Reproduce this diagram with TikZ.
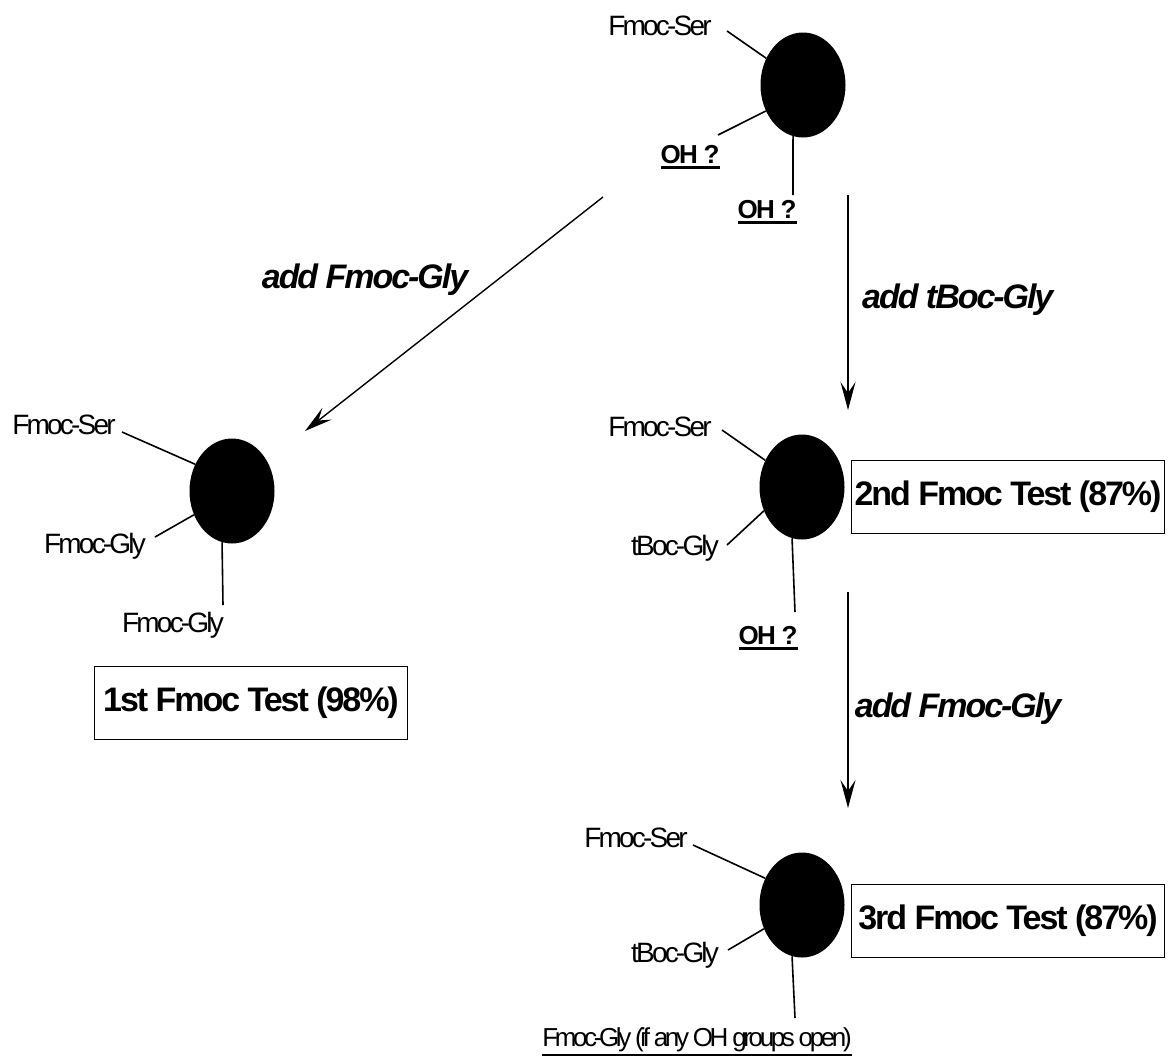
\documentclass[tikz,border=0pt]{standalone}
\usepackage{fontspec}
\setmainfont{Liberation Sans}
\newfontfamily\tightfont[LetterSpace=-6]{Liberation Sans}
\newfontfamily\narrowfont[LetterSpace=-10]{Liberation Sans}
\newfontfamily\squeezefont[LetterSpace=-13]{Liberation Sans}
\usetikzlibrary{arrows.meta,shapes.geometric}

% thick underline drawn under a text box
\newcommand\thickul[2][3pt]{\setbox0=\hbox{#2}\vtop{\copy0\kern2pt\hrule height #1 width \wd0}}

\tikzset{
  bead/.style={ellipse, fill=black, inner sep=0pt, minimum width=85pt, minimum height=105pt},
  arm/.style={line width=1.6pt},
  flow/.style={line width=1.4pt, -{Stealth[length=28pt,width=15pt,inset=11pt]}},
  grp/.style={font=\narrowfont\fontsize{28}{30}\selectfont, inner sep=0pt},
  ohlabel/.style={font=\tightfont\bfseries\fontsize{26}{28}\selectfont, inner sep=0pt},
  reagent/.style={font=\tightfont\bfseries\itshape\fontsize{34}{36}\selectfont, inner sep=0pt},
  testbox/.style={draw, line width=1.5pt, inner sep=0pt, minimum width=313pt, minimum height=73pt,
                  font=\tightfont\bfseries\fontsize{34}{36}\selectfont},
}

\begin{document}
\begin{tikzpicture}[x=1pt,y=-1pt]
\useasboundingbox (0,0) rectangle (1172,1061);

% ---- starting resin bead ----
\node[bead] (b1) at (803,85) {};
\node[grp] (s1) at (660,26) {Fmoc-Ser};
\node[ohlabel] (oh1) at (690,157) {\thickul{OH ?}};
\node[ohlabel] (oh2) at (767,212) {\thickul{OH ?}};
\coordinate (s1e) at (727,31);
\coordinate (oh1e) at (718,135);
\coordinate (oh2e) at (793,195);
\draw[arm] (s1e) -- (b1.144);
\draw[arm] (oh1e) -- (b1.215);
\draw[arm] (b1.259) -- (oh2e);

% ---- branch 1: Fmoc-Gly on all hydroxyls ----
\coordinate (d0) at (603,197);
\coordinate (d1) at (305,431);
\draw[flow] (d0) -- (d1);
\node[reagent] (r1) at (365,280) {add Fmoc-Gly};

\node[bead] (b2) at (232,491) {};
\node[grp] (s2) at (64,425) {Fmoc-Ser};
\node[grp] (g2a) at (95,546) {Fmoc-Gly};
\node[grp] (g2b) at (173,625) {Fmoc-Gly};
\coordinate (s2e) at (122,432);
\coordinate (g2ae) at (155,537);
\coordinate (g2be) at (223,605);
\draw[arm] (s2e) -- (b2.144);
\draw[arm] (g2ae) -- (b2.212);
\draw[arm] (b2.259) -- (g2be);
\node[testbox] (t1) at (251,703) {1st Fmoc Test (98\%)};

% ---- branch 2: tBoc-Gly first ----
\coordinate (v0) at (848,195);
\coordinate (v1) at (848,410);
\draw[flow] (v0) -- (v1);
\node[reagent, anchor=west] (r2) at (862,300) {add tBoc-Gly};

\node[bead] (b3) at (802,487) {};
\node[grp] (s3) at (660,427) {Fmoc-Ser};
\node[grp] (g3) at (675,548) {tBoc-Gly};
\node[ohlabel] (oh3) at (768,638) {\thickul{OH ?}};
\coordinate (s3e) at (722,430);
\coordinate (g3e) at (727,545);
\coordinate (oh3e) at (795,612);
\draw[arm] (s3e) -- (b3.144);
\draw[arm] (g3e) -- (b3.212);
\draw[arm] (b3.259) -- (oh3e);
\node[testbox] (t2) at (1008,497) {2nd Fmoc Test (87\%)};

% ---- then Fmoc-Gly on remaining hydroxyls ----
\coordinate (w0) at (848,592);
\coordinate (w1) at (848,808);
\draw[flow] (w0) -- (w1);
\node[reagent] (r3) at (958,709) {add Fmoc-Gly};

\node[bead] (b4) at (802,905) {};
\node[grp] (s4) at (636,838) {Fmoc-Ser};
\node[grp] (g4) at (675,955) {tBoc-Gly};
\node[inner sep=0pt, font=\squeezefont\fontsize{26}{28}\selectfont] (g4b) at (697,1042)
  {\thickul[2.5pt]{Fmoc-Gly (if any OH groups open)}};
\coordinate (s4e) at (693,845);
\coordinate (g4e) at (728,950);
\coordinate (g4be) at (795,1018);
\draw[arm] (s4e) -- (b4.144);
\draw[arm] (g4e) -- (b4.212);
\draw[arm] (b4.259) -- (g4be);
\node[testbox] (t3) at (1008,921) {3rd Fmoc Test (87\%)};
\end{tikzpicture}
\end{document}
